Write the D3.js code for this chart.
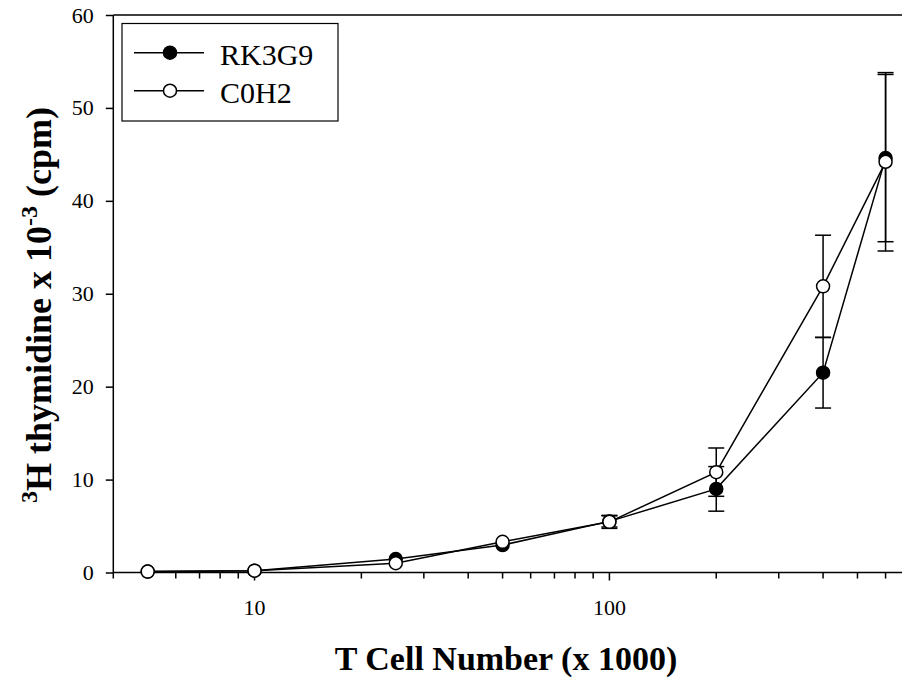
<!DOCTYPE html>
<html><head><meta charset="utf-8">
<script src="https://cdn.jsdelivr.net/npm/d3@7"></script>
<style>body{margin:0;background:#fff}svg{display:block}</style>
</head><body>
<svg id="c" width="902" height="684"></svg>
<script>
const xVals = [5, 10, 25, 50, 100, 200, 400, 600];
const rkMean = [0.1, 0.2, 1.45, 2.95, 5.5, 9.0, 21.5, 44.6];
const rkErr = [0, 0, 0, 0, 0.6, 2.4, 3.8, 9.0];
const cohMean = [0.1, 0.2, 1.0, 3.3, 5.45, 10.8, 30.8, 44.2];
const cohErr = [0, 0, 0, 0, 0.7, 2.6, 5.5, 9.6];
const seriesNames = ["RK3G9", "C0H2"];
const xMajorTicks = [10, 100];
const xMinorTicks = [4,5,6,7,8,9,20,30,40,50,60,70,80,90,200,300,400,500,600,700,800,900];
const yTicks = [0, 10, 20, 30, 40, 50, 60];

const svg = d3.select("#c");
const font = "Liberation Serif, serif";
const x = d3.scaleLog().domain([4, 1000]).range([113.3, 964.3]);
const y = d3.scaleLinear().domain([0, 60]).range([572.5, 15]);
const W = 902;

// frame top line
svg.append("line").attr("x1", x(4)).attr("x2", W).attr("y1", y(60)).attr("y2", y(60))
  .attr("stroke", "#000").attr("stroke-width", 1.5);

// y axis
const ya = svg.append("g").attr("transform", `translate(${x(4)},0)`)
  .call(d3.axisLeft(y).tickValues(yTicks).tickSize(7.5).tickPadding(12).tickFormat(d3.format("d")));
ya.attr("font-family", font).attr("font-size", 22);
ya.select(".domain").attr("stroke-width", 1.5).attr("d", `M0,${y(60)}V${y(0)}`);
ya.selectAll(".tick line").attr("stroke-width", 1.5);
ya.selectAll(".tick text").style("font-family", font).style("font-size", "22px").attr("fill", "#000");

// x axis
const xa = svg.append("g").attr("transform", `translate(0,${y(0)})`);
xa.append("line").attr("x1", x(4)).attr("x2", W).attr("stroke", "#000").attr("stroke-width", 1.5);
xa.call(g => {
  g.selectAll(".minor").data(xMinorTicks).join("line").attr("class", "minor")
    .attr("x1", d => x(d)).attr("x2", d => x(d)).attr("y1", 0).attr("y2", 6)
    .attr("stroke", "#000").attr("stroke-width", 1.5);
  g.selectAll(".major").data(xMajorTicks).join("line").attr("class", "major")
    .attr("x1", d => x(d)).attr("x2", d => x(d)).attr("y1", 0).attr("y2", 8)
    .attr("stroke", "#000").attr("stroke-width", 1.5);
  g.selectAll(".lbl").data(xMajorTicks).join("text").attr("class", "lbl")
    .attr("x", d => x(d)).attr("y", 42).attr("text-anchor", "middle")
    .style("font-family", font).style("font-size", "22px").text(d => d);
});

// titles
svg.append("text").attr("x", 506).attr("y", 670).attr("text-anchor", "middle")
  .style("font-family", font).style("font-size", "34px").attr("font-weight", "bold")
  .text("T Cell Number (x 1000)");
const yt = svg.append("text").attr("transform", "translate(51,305) rotate(-90)")
  .attr("text-anchor", "middle").style("font-family", font).style("font-size", "36px").attr("font-weight", "bold");
yt.append("tspan").style("font-size", "24px").attr("dy", -14).text("3");
yt.append("tspan").attr("dy", 14).text("H thymidine x 10");
yt.append("tspan").style("font-size", "24px").attr("dy", -14).text("-3");
yt.append("tspan").attr("dy", 14).text(" (cpm)");

// series
const series = [
  {name: seriesNames[0], mean: rkMean, err: rkErr, fill: "#000"},
  {name: seriesNames[1], mean: cohMean, err: cohErr, fill: "#fff"}
];
const line = d3.line().x(d => x(d.x)).y(d => y(d.v));
series.forEach(s => {
  const pts = xVals.map((xv, i) => ({x: xv, v: s.mean[i], e: s.err[i]}));
  svg.append("path").datum(pts).attr("d", line).attr("fill", "none").attr("stroke", "#000").attr("stroke-width", 1.5);
  const eb = svg.append("g");
  pts.filter(p => p.e > 0).forEach(p => {
    eb.append("line").attr("x1", x(p.x)).attr("x2", x(p.x)).attr("y1", y(p.v - p.e)).attr("y2", y(p.v + p.e))
      .attr("stroke", "#000").attr("stroke-width", 1.5);
    [p.v - p.e, p.v + p.e].forEach(v => eb.append("line")
      .attr("x1", x(p.x) - 8).attr("x2", x(p.x) + 8).attr("y1", y(v)).attr("y2", y(v))
      .attr("stroke", "#000").attr("stroke-width", 1.5));
  });
});
series.forEach(s => {
  const pts = xVals.map((xv, i) => ({x: xv, v: s.mean[i]}));
  svg.append("g").selectAll("circle").data(pts).join("circle")
    .attr("cx", d => x(d.x)).attr("cy", d => y(d.v)).attr("r", 6.5)
    .attr("fill", s.fill).attr("stroke", "#000").attr("stroke-width", 1.5);
});

// legend
const lg = svg.append("g");
lg.append("rect").attr("x", 122).attr("y", 23.5).attr("width", 216).attr("height", 97.5)
  .attr("fill", "#fff").attr("stroke", "#000").attr("stroke-width", 1.2);
series.forEach((s, i) => {
  const ly = 52.7 + i * 38;
  lg.append("line").attr("x1", 134).attr("x2", 204).attr("y1", ly).attr("y2", ly).attr("stroke", "#000").attr("stroke-width", 1.5);
  lg.append("circle").attr("cx", 170).attr("cy", ly).attr("r", 6.5).attr("fill", s.fill).attr("stroke", "#000").attr("stroke-width", 1.5);
  lg.append("text").attr("x", 220).attr("y", ly + 12.3).style("font-family", font).style("font-size", "30px").text(s.name);
});
</script>
</body></html>
